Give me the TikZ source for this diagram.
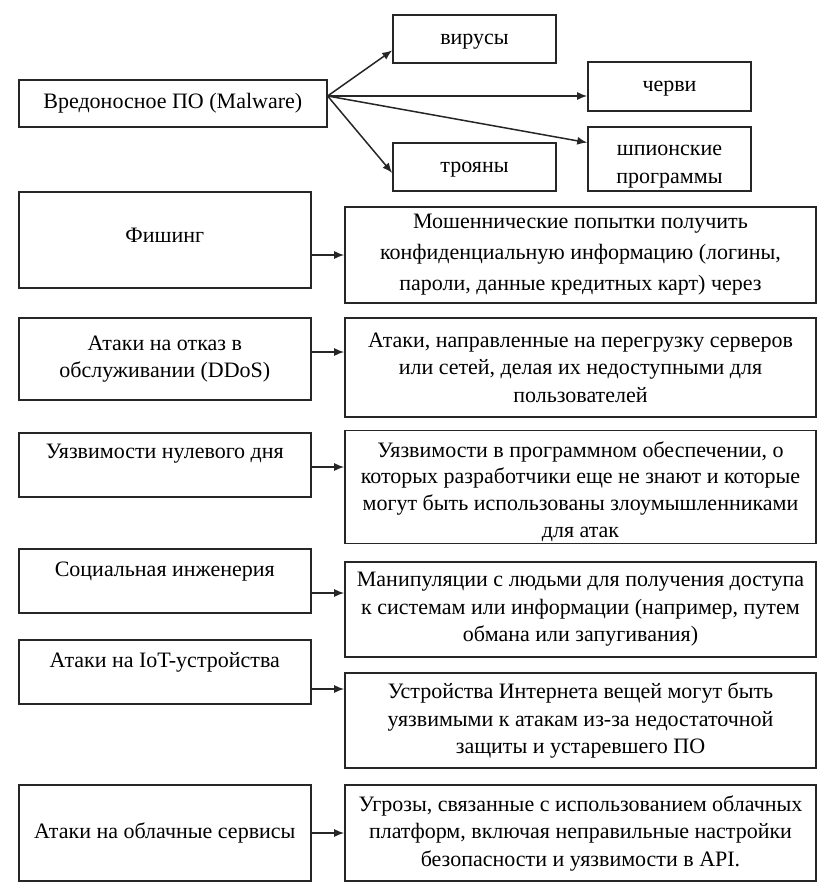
\documentclass[tikz,border=0pt]{standalone}
\usepackage{fontspec}
\setmainfont{Liberation Serif}
\usetikzlibrary{arrows.meta,calc,positioning}
\tikzset{%
	block/.style     = {draw=black!85, rectangle, line width=1.6pt, inner sep=2pt, align=center, font=\fontsize{22}{27.5}\selectfont},
	leftblock/.style = {block, minimum width=292pt}, % threat
	infoblock/.style = {block, minimum width=471pt}, % description
	kindblock/.style = {block, minimum width=163pt, text height=15pt, text depth=4.5pt}, % kind of malware
	raised/.style    = {text depth=#1}, % text near the top
	arrow/.style     = {draw=black!85, line width=1.5pt, -{Latex[length=10pt,width=8pt]}},
}
\begin{document}
\begin{tikzpicture}[x=1pt,y=-1pt]
	\useasboundingbox (0,0) rectangle (830,894);
	% malware and its kinds
	\node[block, minimum width=308pt, minimum height=47pt] (malware) at (172.8,103.5) {Вредоносное ПО (Malware)};
	\node[kindblock, minimum height=48pt] (virus) at (474.5,39) {вирусы};
	\node[kindblock, minimum height=49pt] (worms) at (669.5,86.5) {черви};
	\node[kindblock, minimum height=64pt, text height=53pt] (spy) at (669.5,159) {шпионские\\программы};
	\node[kindblock, minimum height=48pt] (trojan) at (474.5,167) {трояны};
	\coordinate (fan) at ($(malware.east)+(0,-7.5)$);
	\draw[arrow] (fan) -- ($(virus.north west)!0.73!(virus.south west)$);
	\draw[arrow] (fan) -- (fan -| worms.west);
	\draw[arrow] (fan) -- ($(spy.north west)!0.25!(spy.south west)$);
	\draw[arrow] (fan) -- ($(trojan.north west)!0.62!(trojan.south west)$);
	% threats
	\node[leftblock, minimum height=96pt, raised=9pt] (phish) at (164.8,240) {Фишинг};
	\node[infoblock, minimum height=96pt, font=\fontsize{22}{31}\selectfont] (phishinfo) at (580.5,255) {Мошеннические попытки получить\\конфиденциальную информацию (логины,\\пароли, данные кредитных карт) через};
	\node[leftblock, minimum height=82pt] (ddos) at (164.8,359) {Атаки на отказ в\\обслуживании (DDoS)};
	\node[infoblock, minimum height=99pt] (ddosinfo) at (580.5,367.5) {Атаки, направленные на перегрузку серверов\\или сетей, делая их недоступными для\\пользователей};
	\node[leftblock, minimum height=64pt, raised=28pt] (zeroday) at (164.8,465) {Уязвимости нулевого дня};
	\node[infoblock, minimum height=108pt, text height=105pt, font=\fontsize{22}{26.7}\selectfont] (zerodayinfo) at (580.5,487) {Уязвимости в программном обеспечении, о\\которых разработчики еще не знают и которые\\могут быть использованы злоумышленниками\\для атак};
	\node[leftblock, minimum height=64pt, raised=24.5pt] (social) at (164.8,581) {Социальная инженерия};
	\node[infoblock, minimum height=95pt] (socialinfo) at (580.5,609.5) {Манипуляции с людьми для получения доступа\\к системам или информации (например, путем\\обмана или запугивания)};
	\node[leftblock, minimum height=64pt, raised=24.5pt] (iot) at (164.8,672) {Атаки на IoT-устройства};
	\node[infoblock, minimum height=95pt] (iotinfo) at (580.5,720.5) {Устройства Интернета вещей могут быть\\уязвимыми к атакам из-за недостаточной\\защиты и устаревшего ПО};
	\node[leftblock, minimum height=96pt] (cloud) at (164.8,833) {Атаки на облачные сервисы};
	\node[infoblock, minimum height=96pt] (cloudinfo) at (580.5,833) {Угрозы, связанные с использованием облачных\\платформ, включая неправильные настройки\\безопасности и уязвимости в API.};
	\foreach \from/\to/\y in {phish/phishinfo/255, ddos/ddosinfo/352, zeroday/zerodayinfo/467, social/socialinfo/593, iot/iotinfo/689, cloud/cloudinfo/833}
		\draw[arrow] (\from.east |- 0,\y) -- (\to.west |- 0,\y);
\end{tikzpicture}
\end{document}
